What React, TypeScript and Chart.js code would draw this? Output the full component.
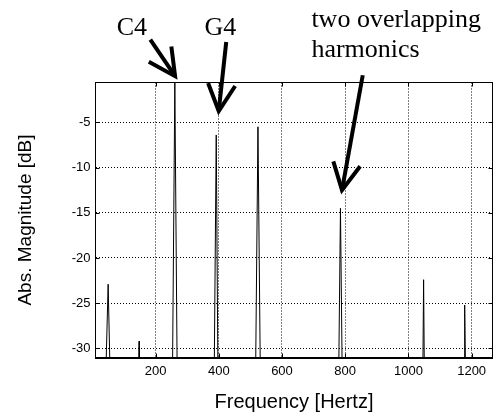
import { useEffect, useRef } from 'react';
import { Chart, registerables } from 'chart.js';

Chart.register(...registerables);

// Spectrum (floored at -31 dB): frequency in Hz and magnitude in dB
const spectrumHz = [10, 44, 50, 55, 147, 148, 149, 254, 261, 268, 386, 392, 397, 517, 524, 531, 780, 785, 790, 1046, 1048, 1050, 1176, 1178, 1180, 1266];
const spectrumDb = [-31, -31, -22.9, -31, -31, -29.2, -31, -31, -0.6, -31, -31, -6.4, -31, -31, -5.5, -31, -31, -14.5, -31, -31, -22.4, -31, -31, -25.2, -31, -31];

const xTickValues = [200, 400, 600, 800, 1000, 1200];
const yTickValues = [-30, -25, -20, -15, -10, -5];

const X_MIN = 10;
const X_MAX = 1266;
const Y_MIN = -31;
const Y_MAX = -0.6;

// Annotation texts anchored in data space (left / baseline)
const annotationTexts = ['C4', 'G4', 'two overlapping', 'harmonics'];
const annotationHz = [77, 355, 693, 693];
const annotationDb = [4.6, 4.6, 5.5, 2.2];

// Arrows: tail -> tip, in data space
const arrowTipHz = [261.8, 399.9, 789.8];
const arrowTipDb = [0.1, -3.76, -12.5];
const arrowTailHz = [183.4, 423.6, 855.5];
const arrowTailDb = [4.14, 3.88, 0.2];

const SANS = '"Liberation Sans", Arial, Helvetica, sans-serif';
const SERIF = '"Liberation Serif", "Times New Roman", serif';

const framePlugin = {
  id: 'frame',
  afterDraw(chart: any) {
    const { ctx, chartArea } = chart;
    const { left, right, top, bottom } = chartArea;
    const xs = chart.scales.x;
    const ys = chart.scales.y;
    ctx.save();
    ctx.strokeStyle = '#000';
    ctx.setLineDash([]);
    ctx.lineWidth = 1;
    // inner tick marks
    const tl = 4;
    ctx.beginPath();
    xTickValues.forEach((v) => {
      const px = Math.round(xs.getPixelForValue(v)) + 0.5;
      ctx.moveTo(px, bottom);
      ctx.lineTo(px, bottom - tl);
      ctx.moveTo(px, top);
      ctx.lineTo(px, top + tl);
    });
    yTickValues.forEach((v) => {
      const py = Math.round(ys.getPixelForValue(v)) + 0.5;
      ctx.moveTo(left, py);
      ctx.lineTo(left + tl, py);
      ctx.moveTo(right, py);
      ctx.lineTo(right - tl, py);
    });
    ctx.stroke();
    // box
    ctx.strokeRect(left, top, right - left, bottom - top);
    ctx.lineWidth = 2;
    ctx.beginPath();
    ctx.moveTo(left - 0.5, bottom + 0.5);
    ctx.lineTo(right + 0.5, bottom + 0.5);
    ctx.stroke();

    // annotation texts
    ctx.fillStyle = '#000';
    ctx.font = `26px ${SERIF}`;
    ctx.textAlign = 'left';
    ctx.textBaseline = 'alphabetic';
    annotationTexts.forEach((t, i) => {
      ctx.fillText(t, xs.getPixelForValue(annotationHz[i]), ys.getPixelForValue(annotationDb[i]));
    });

    // arrows
    ctx.lineWidth = 4;
    ctx.lineCap = 'butt';
    ctx.lineJoin = 'miter';
    const armLen = 30;
    const half = (27 * Math.PI) / 180;
    arrowTipHz.forEach((_, i) => {
      const tx = xs.getPixelForValue(arrowTipHz[i]);
      const ty = ys.getPixelForValue(arrowTipDb[i]);
      const sx = xs.getPixelForValue(arrowTailHz[i]);
      const sy = ys.getPixelForValue(arrowTailDb[i]);
      const ang = Math.atan2(sy - ty, sx - tx);
      ctx.beginPath();
      ctx.moveTo(sx, sy);
      ctx.lineTo(tx, ty);
      ctx.stroke();
      ctx.beginPath();
      ctx.moveTo(tx + armLen * Math.cos(ang - half), ty + armLen * Math.sin(ang - half));
      ctx.lineTo(tx, ty);
      ctx.lineTo(tx + armLen * Math.cos(ang + half), ty + armLen * Math.sin(ang + half));
      ctx.stroke();
    });
    ctx.restore();
  },
};

export default function App() {
  const ref = useRef<HTMLCanvasElement>(null);
  useEffect(() => {
    const points = spectrumHz.map((x, i) => ({ x, y: spectrumDb[i] }));
    const chart = new Chart(ref.current as HTMLCanvasElement, {
      type: 'line',
      data: {
        datasets: [
          {
            data: points,
            borderColor: '#000',
            borderWidth: 1,
            pointRadius: 0,
            tension: 0,
            fill: false,
          },
        ],
      },
      options: {
        animation: false,
        responsive: false,
        layout: { padding: { top: 82.5, right: 2.5, left: 0, bottom: 0 } },
        plugins: { legend: { display: false }, tooltip: { enabled: false } },
        scales: {
          x: {
            type: 'linear',
            min: X_MIN,
            max: X_MAX,
            afterBuildTicks: (s: any) => {
              s.ticks = xTickValues.map((value) => ({ value }));
            },
            afterFit: (s: any) => {
              s.height = 56.5;
            },
            grid: { color: '#000', lineWidth: 1, drawTicks: false },
            border: { display: false, dash: [1, 2] },
            ticks: {
              padding: 6,
              color: '#000',
              autoSkip: false,
              maxRotation: 0,
              font: { family: SANS, size: 13 },
              callback: (v: any) => String(v),
            },
            title: {
              display: true,
              text: 'Frequency [Hertz]',
              color: '#000',
              font: { family: SANS, size: 20 },
              padding: { top: 0, bottom: 0 },
            },
          },
          y: {
            type: 'linear',
            min: Y_MIN,
            max: Y_MAX,
            afterBuildTicks: (s: any) => {
              s.ticks = yTickValues.map((value) => ({ value }));
            },
            afterFit: (s: any) => {
              s.width = 95.5;
            },
            grid: { color: '#000', lineWidth: 1, drawTicks: false },
            border: { display: false, dash: [1, 2] },
            ticks: {
              padding: 5,
              color: '#000',
              autoSkip: false,
              font: { family: SANS, size: 13 },
              callback: (v: any) => String(v),
            },
            title: {
              display: true,
              text: 'Abs. Magnitude [dB]',
              color: '#000',
              font: { family: SANS, size: 19 },
              padding: { top: 14, bottom: 2 },
            },
          },
        },
      },
      plugins: [framePlugin],
    });
    return () => chart.destroy();
  }, []);
  return (
    <div style={{ position: 'fixed', left: 0, top: 0, width: 495, height: 414, background: '#fff' }}>
      <canvas ref={ref} width={495} height={414} style={{ display: 'block' }} />
    </div>
  );
}
